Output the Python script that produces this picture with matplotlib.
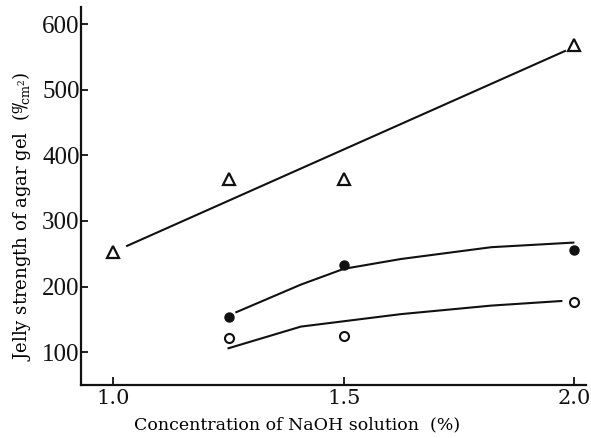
import matplotlib

matplotlib.use("Agg")
import matplotlib.pyplot as plt

# measured points
conc = [1.0, 1.25, 1.5, 2.0]
tri_vals = [253, 364, 364, 568]
conc_circ = [1.25, 1.5, 2.0]
filled_vals = [153, 233, 255]
open_vals = [121, 125, 176]

# hand-drawn fit lines
tri_fit_x = [1.03, 1.98]
tri_fit_y = [262, 559]
filled_fit_x = [1.267, 1.407, 1.5, 1.624, 1.82, 1.998]
filled_fit_y = [161, 203, 227, 242, 260, 267]
open_fit_x = [1.25, 1.407, 1.624, 1.82, 1.972]
open_fit_y = [106, 139, 158, 171, 178]

xticks = [1.0, 1.5, 2.0]
xtick_labels = ["1.0", "1.5", "2.0"]
yticks = [100, 200, 300, 400, 500, 600]

plt.rcParams["font.family"] = ["DejaVu Serif"]
plt.rcParams["mathtext.fontset"] = "dejavuserif"

fig = plt.figure(figsize=(5.91, 4.38), dpi=100)
ax = fig.add_axes([0.137, 0.121, 0.855, 0.863])

ink = "#111111"
ax.plot(tri_fit_x, tri_fit_y, color=ink, lw=1.5)
ax.plot(filled_fit_x, filled_fit_y, color=ink, lw=1.5)
ax.plot(open_fit_x, open_fit_y, color=ink, lw=1.5)

ax.plot(conc, tri_vals, ls="none", marker="^", ms=9, mfc="white", mec=ink, mew=1.6)
ax.plot(conc_circ, filled_vals, ls="none", marker="o", ms=6.5, mfc=ink, mec=ink)
ax.plot(conc_circ, open_vals, ls="none", marker="o", ms=6.5, mfc="white", mec=ink, mew=1.5)

ax.set_xlim(0.93, 2.026)
ax.set_ylim(50, 626)
ax.set_xticks(xticks)
ax.set_xticklabels(xtick_labels)
ax.set_yticks(yticks)

for side in ("top", "right"):
    ax.spines[side].set_visible(False)
for side in ("left", "bottom"):
    ax.spines[side].set_linewidth(1.6)
    ax.spines[side].set_color(ink)

ax.tick_params(axis="y", direction="in", length=5, width=1.3, pad=1, labelsize=18, colors=ink)
ax.tick_params(axis="x", direction="in", length=6, width=1.3, pad=3, labelsize=15, colors=ink)
for lab in ax.get_yticklabels():
    lab.set_family("Liberation Serif")

ax.set_xlabel("Concentration of NaOH solution  (%)", fontsize=12.5)
ax.set_ylabel(r"Jelly strength of agar gel  ($^{\mathrm{g}}\!/\!_{\mathrm{cm}^2}$)",
              fontsize=13)
ax.xaxis.set_label_coords(0.428, -0.082)
ax.yaxis.set_label_coords(-0.095, 0.447)

fig.savefig("out.png", dpi=100)
